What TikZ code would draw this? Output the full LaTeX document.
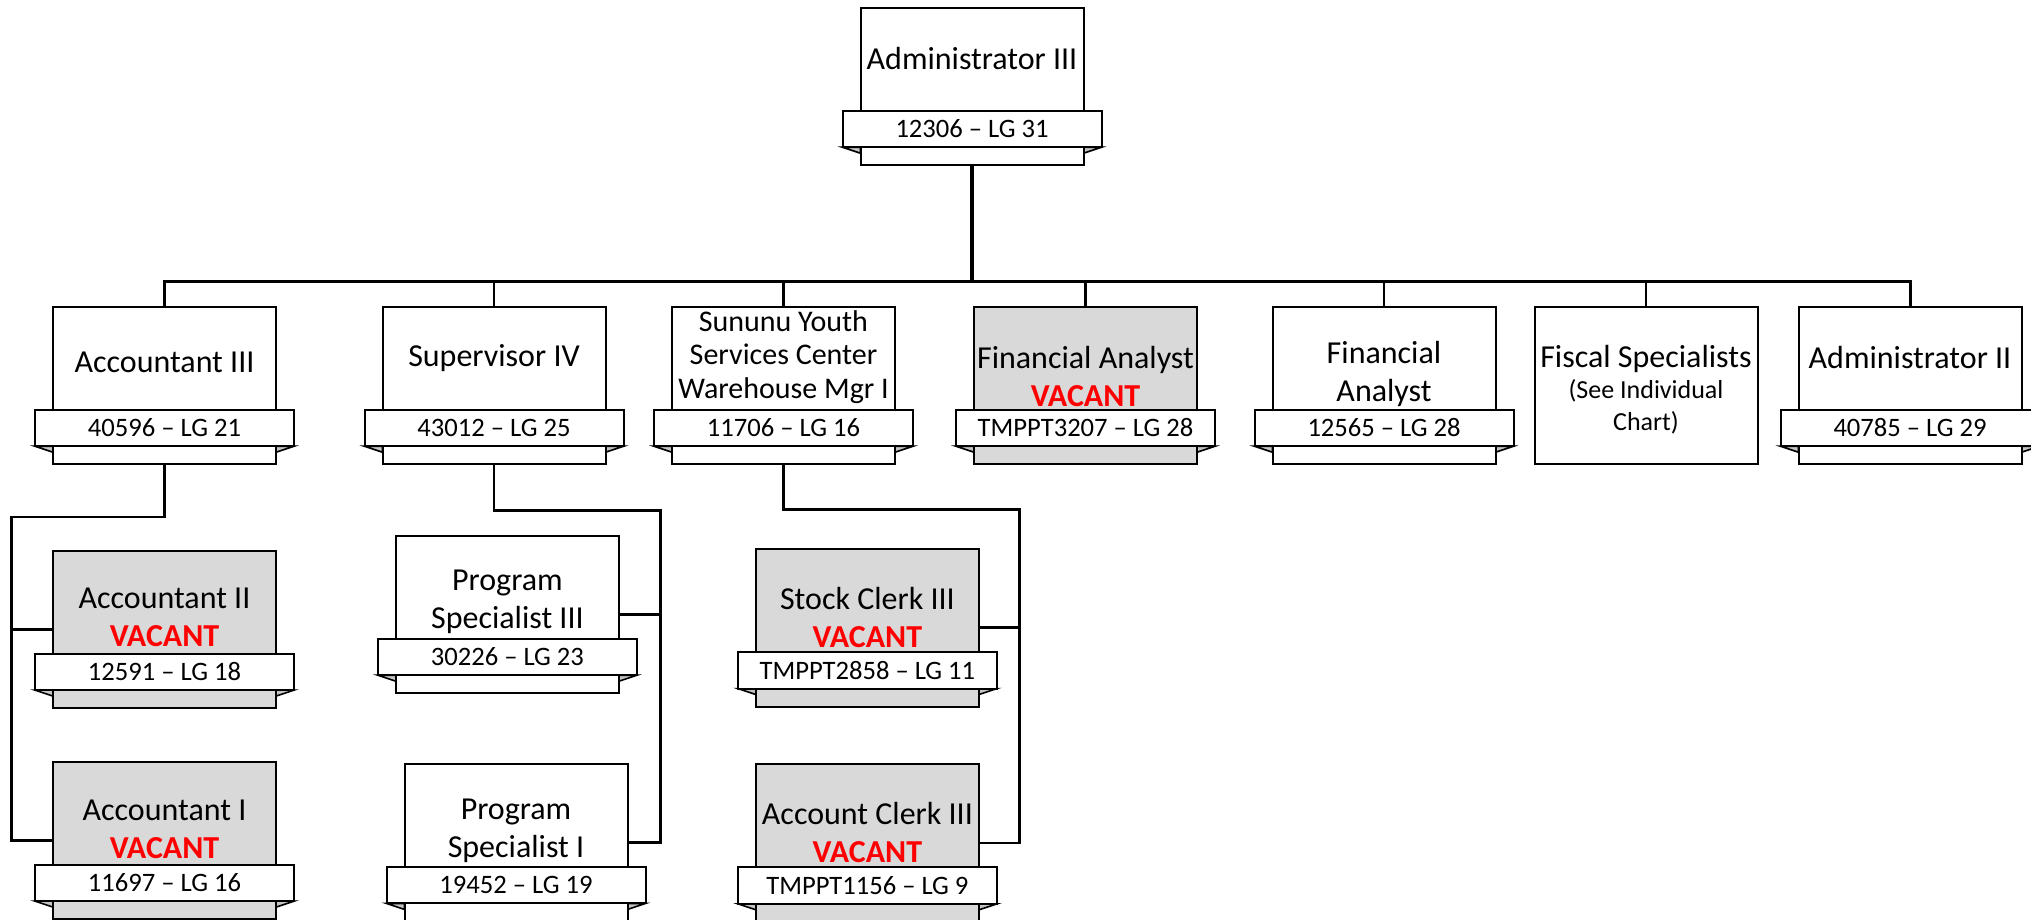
\documentclass[tikz,border=0pt]{standalone}
\usepackage{fontspec}
\setmainfont{Carlito}
\usetikzlibrary{positioning}
\usetikzlibrary{backgrounds}
\definecolor{vacantgray}{HTML}{D9D9D9}
\definecolor{foldgray}{HTML}{C4C4C4}
\definecolor{vacantred}{HTML}{FF0000}

\begin{document}
\begin{tikzpicture}[x=0.5pt,y=-0.5pt,
    job/.style={draw,line width=1pt,fill=white,minimum width=111.5pt,minimum height=78.75pt,inner sep=0pt,outer sep=0pt},
    jobvac/.style={job,fill=vacantgray},
    tag/.style={draw,line width=1pt,fill=white,minimum width=129.5pt,minimum height=18.25pt,inner sep=0pt,outer sep=0pt,font=\fontsize{13.3}{15.8}\selectfont},
    title/.style={align=center,inner sep=0pt,font=\fontsize{16}{19}\selectfont},
    fold/.style={draw,line width=0.8pt,fill=foldgray},
    link/.style={line width=1.35pt}]
    \useasboundingbox (0,0) rectangle (2031,920);

    \node[job] at (972,86.5) (admin3) {};
    \node[tag, above=9pt of admin3.south] (admin3tab) {12306 – LG 31};
    \node[title] at (972,59) (admin3text) {Administrator III};

    \node[job] at (164.5,385.5) (acc3) {};
    \node[tag, above=9pt of acc3.south] (acc3tab) {40596 – LG 21};
    \node[title] at (164.5,362) (acc3text) {Accountant III};

    \node[job] at (494,385.5) (sup4) {};
    \node[tag, above=9pt of sup4.south] (sup4tab) {43012 – LG 25};
    \node[title] at (494,358) (sup4text) {Supervisor IV};

    \node[job] at (783.5,385.5) (sununu) {};
    \node[tag, above=9pt of sununu.south] (sununutab) {11706 – LG 16};
    \node[title,font=\fontsize{15}{16.8}\selectfont] at (783.5,357) (sununutext) {Sununu Youth\\Services Center\\Warehouse Mgr I};

    \node[jobvac] at (1085.5,385.5) (finvac) {};
    \node[tag, above=9pt of finvac.south] (finvactab) {TMPPT3207 – LG 28};
    \node[title] at (1085.5,376) (finvactext) {Financial Analyst\\\textcolor{vacantred}{\bfseries VACANT}};

    \node[job] at (1384,385.5) (fin) {};
    \node[tag, above=9pt of fin.south] (fintab) {12565 – LG 28};
    \node[title] at (1384,374) (fintext) {Financial\\Analyst};

    \node[job] at (1646,385.5) (fiscal) {};
    \node[title] at (1646,359) (fiscaltext) {Fiscal Specialists};
    \node[title,font=\fontsize{13}{15.8}\selectfont] at (1646,407) (fiscalnote) {(See Individual\\Chart)};

    \node[job] at (1910,385.5) (admin2) {};
    \node[tag, above=9pt of admin2.south] (admin2tab) {40785 – LG 29};
    \node[title] at (1910,358) (admin2text) {Administrator II};

    \node[jobvac] at (164.5,629.4) (acc2) {};
    \node[tag, above=9pt of acc2.south] (acc2tab) {12591 – LG 18};
    \node[title] at (164.5,617) (acc2text) {Accountant II\\\textcolor{vacantred}{\bfseries VACANT}};

    \node[jobvac] at (164.5,840.4) (acc1) {};
    \node[tag, above=9pt of acc1.south] (acc1tab) {11697 – LG 16};
    \node[title] at (164.5,829) (acc1text) {Accountant I\\\textcolor{vacantred}{\bfseries VACANT}};

    \node[job] at (507.4,614.5) (ps3) {};
    \node[tag, above=9pt of ps3.south] (ps3tab) {30226 – LG 23};
    \node[title] at (507.4,602) (ps3text) {Program\\Specialist III};

    \node[job] at (516,842.7) (ps1) {};
    \node[tag, above=9pt of ps1.south] (ps1tab) {19452 – LG 19};
    \node[title] at (516,831) (ps1text) {Program\\Specialist I};

    \node[jobvac] at (867.4,627.8) (sc3) {};
    \node[tag, above=9pt of sc3.south] (sc3tab) {TMPPT2858 – LG 11};
    \node[title] at (867.4,617) (sc3text) {Stock Clerk III\\\textcolor{vacantred}{\bfseries VACANT}};

    \node[jobvac] at (867.4,843.1) (ac3) {};
    \node[tag, above=9pt of ac3.south] (ac3tab) {TMPPT1156 – LG 9};
    \node[title] at (867.4,832) (ac3text) {Account Clerk III\\\textcolor{vacantred}{\bfseries VACANT}};

    % folded ends of the number tabs
    \begin{scope}[on background layer]
        \foreach \t in {admin3tab,acc3tab,sup4tab,sununutab,finvactab,fintab,admin2tab,acc2tab,acc1tab,ps3tab,ps1tab,sc3tab,ac3tab} {
            \filldraw[fold] (\t.south west) -- ++(18,0) -- ++(0,6) -- cycle;
            \filldraw[fold] (\t.south east) -- ++(-18,0) -- ++(0,6) -- cycle;
        }
    \end{scope}

    % top level
    \coordinate (bus) at (972,281);
    \draw[link,line width=1.9pt] (admin3.south) -- (bus);
    \draw[link,line width=1.5pt] (acc3.north) |- (bus) -| (admin2.north);
    \foreach \n in {sup4,sununu,finvac,fin,fiscal}
        \draw[link] (\n.north) -- (\n.north |- bus);

    % second level
    \coordinate (accrail) at (11.7,517);
    \draw[link] (acc3.south) |- (accrail) |- (acc1.west);
    \draw[link] (accrail |- acc2.west) -- (acc2.west);

    \coordinate (suprail) at (660.7,510.7);
    \draw[link] (sup4.south) |- (suprail) |- (ps1.east);
    \draw[link] (suprail |- ps3.east) -- (ps3.east);

    \coordinate (sununurail) at (1019.3,509.3);
    \draw[link] (sununu.south) |- (sununurail) |- (ac3.east);
    \draw[link] (sununurail |- sc3.east) -- (sc3.east);
\end{tikzpicture}
\end{document}
